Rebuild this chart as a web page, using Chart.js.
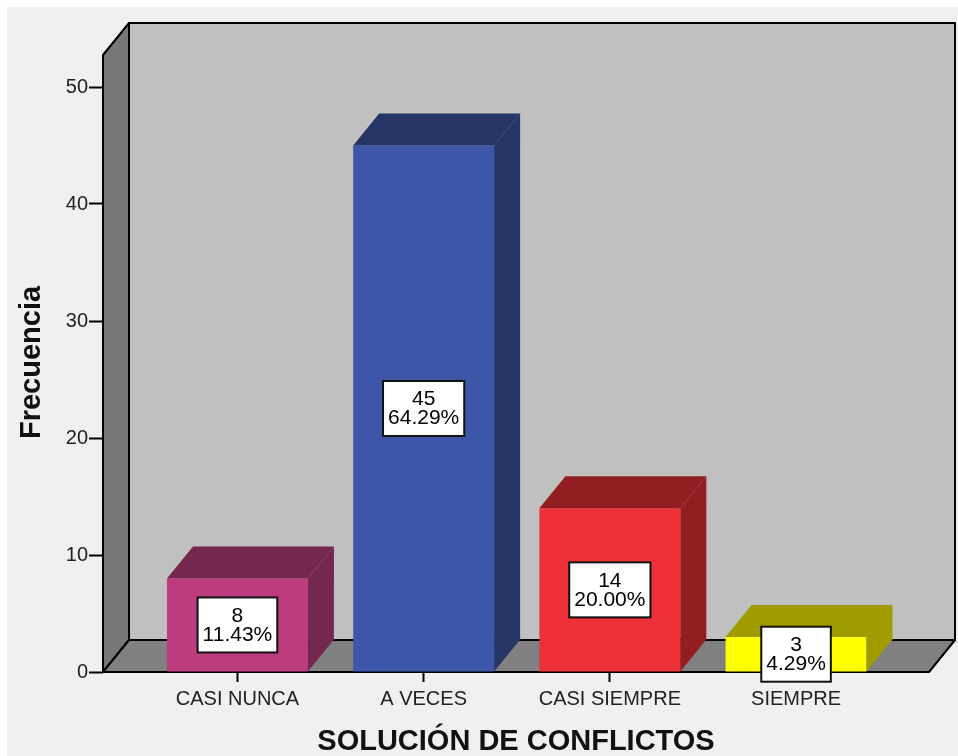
<!DOCTYPE html>
<html>
<head>
<meta charset="utf-8">
<script src="https://cdn.jsdelivr.net/npm/chart.js@4"></script>
<style>
    body { margin: 0; background: #ffffff; }
    #chart { display: block; }
</style>
</head>
<body>
<canvas id="chart" width="958" height="756"></canvas>
<script>
// ---------- DATA ----------
const CATEGORIES = ['CASI NUNCA', 'A VECES', 'CASI SIEMPRE', 'SIEMPRE'];
const COUNTS = [8, 45, 14, 3];
const PERCENTS = ['11.43%', '64.29%', '20.00%', '4.29%'];
const FRONT_COLORS = ['#bc3c7d', '#3d56a8', '#ee3039', '#ffff00'];
const SHADE_COLORS = ['#74274f', '#243566', '#921e22', '#a09c00'];

const X_TITLE = 'SOLUCIÓN DE CONFLICTOS';
const Y_TITLE = 'Frecuencia';

// ---------- 3D LOOK ----------
const DEPTH_X = 26;
const DEPTH_Y = 32;
const FONT = '"Liberation Sans", Arial, sans-serif';

// background + walls + floor
const wallsPlugin = {
    id: 'walls',
    beforeDraw(chart) {
        const ctx = chart.ctx;
        const a = chart.chartArea;
        ctx.save();
        ctx.fillStyle = '#ffffff';
        ctx.fillRect(0, 0, chart.width, chart.height);
        ctx.fillStyle = '#f0f0f0';
        ctx.fillRect(7, 7, chart.width - 7, chart.height - 7);

        const top = a.top - DEPTH_Y;
        const bx = DEPTH_X, by = -DEPTH_Y;
        ctx.lineWidth = 2;
        ctx.strokeStyle = '#000000';
        ctx.lineJoin = 'round';

        // back wall
        ctx.fillStyle = '#c0c0c0';
        ctx.beginPath();
        ctx.rect(a.left + bx, top + by, a.right - a.left, a.bottom - top);
        ctx.fill();
        ctx.stroke();

        // left wall
        ctx.fillStyle = '#777777';
        ctx.beginPath();
        ctx.moveTo(a.left, top);
        ctx.lineTo(a.left + bx, top + by);
        ctx.lineTo(a.left + bx, a.bottom + by);
        ctx.lineTo(a.left, a.bottom);
        ctx.closePath();
        ctx.fill();
        ctx.stroke();

        // floor
        ctx.fillStyle = '#808080';
        ctx.beginPath();
        ctx.moveTo(a.left, a.bottom);
        ctx.lineTo(a.left + bx, a.bottom + by);
        ctx.lineTo(a.right + bx, a.bottom + by);
        ctx.lineTo(a.right, a.bottom);
        ctx.closePath();
        ctx.fill();
        ctx.stroke();
        ctx.restore();
    },
    // y axis title, placed a bit above the axis middle like the original
    afterDraw(chart) {
        const ctx = chart.ctx;
        const a = chart.chartArea;
        ctx.save();
        ctx.translate(32, (a.top + a.bottom) / 2 - 17);
        ctx.rotate(-Math.PI / 2);
        ctx.font = 'bold 29px ' + FONT;
        ctx.fillStyle = '#111111';
        ctx.textAlign = 'center';
        ctx.textBaseline = 'middle';
        ctx.fillText(Y_TITLE, 0, 0);
        ctx.restore();
    }
};

// bar top/side faces and value boxes
const barFacesPlugin = {
    id: 'barFaces',
    afterDatasetsDraw(chart) {
        const ctx = chart.ctx;
        const bars = chart.getDatasetMeta(0).data;
        ctx.save();
        bars.forEach((bar, i) => {
            const l = bar.x - bar.width / 2;
            const r = bar.x + bar.width / 2;
            ctx.fillStyle = SHADE_COLORS[i];
            // top
            ctx.beginPath();
            ctx.moveTo(l, bar.y);
            ctx.lineTo(l + DEPTH_X, bar.y - DEPTH_Y);
            ctx.lineTo(r + DEPTH_X, bar.y - DEPTH_Y);
            ctx.lineTo(r, bar.y);
            ctx.closePath();
            ctx.fill();
            // side
            ctx.beginPath();
            ctx.moveTo(r, bar.y);
            ctx.lineTo(r + DEPTH_X, bar.y - DEPTH_Y);
            ctx.lineTo(r + DEPTH_X, bar.base - DEPTH_Y);
            ctx.lineTo(r, bar.base);
            ctx.closePath();
            ctx.fill();
        });

        // ---------- value labels ----------
        ctx.font = '21px ' + FONT;
        ctx.textAlign = 'center';
        ctx.textBaseline = 'middle';
        bars.forEach((bar, i) => {
            const lines = [String(COUNTS[i]), PERCENTS[i]];
            const w = Math.max(...lines.map(t => ctx.measureText(t).width)) + 10;
            const h = 55;
            const cx = bar.x;
            const cy = (bar.y + bar.base) / 2;
            ctx.fillStyle = '#ffffff';
            ctx.fillRect(cx - w / 2, cy - h / 2, w, h);
            ctx.lineWidth = 2;
            ctx.strokeStyle = '#111111';
            ctx.strokeRect(cx - w / 2, cy - h / 2, w, h);
            ctx.fillStyle = '#000000';
            ctx.fillText(lines[0], cx, cy - 9);
            ctx.fillText(lines[1], cx, cy + 10);
        });
        ctx.restore();
    }
};

// ---------- CHART ----------
new Chart(document.getElementById('chart'), {
    type: 'bar',
    data: {
        datasets: [{
            data: COUNTS.map((v, i) => ({ x: i, y: v })),
            backgroundColor: FRONT_COLORS,
            borderWidth: 0,
            categoryPercentage: 1,
            barPercentage: 0.757
        }]
    },
    options: {
        responsive: false,
        animation: false,
        layout: { padding: { top: 87, right: 29, bottom: 0, left: 0 } },
        plugins: {
            legend: { display: false },
            tooltip: { enabled: false }
        },
        scales: {
            x: {
                type: 'linear',
                offset: false,
                min: -0.722,
                max: 3.714,
                afterBuildTicks: scale => {
                    scale.ticks = CATEGORIES.map((c, i) => ({ value: i }));
                },
                afterFit: scale => { scale.height = 84; },
                grid: { offset: false, drawOnChartArea: false, drawTicks: true, tickLength: 10, tickWidth: 2, color: '#000000' },
                border: { display: false },
                ticks: {
                    autoSkip: false,
                    maxRotation: 0,
                    padding: 5,
                    color: '#222222',
                    font: { family: FONT, size: 20 },
                    callback: v => CATEGORIES[v]
                },
                title: {
                    display: true,
                    text: X_TITLE,
                    color: '#111111',
                    font: { family: FONT, size: 29, weight: 'bold', lineHeight: 1 },
                    padding: { top: 0, bottom: 0 }
                }
            },
            y: {
                min: 0,
                max: 50,
                afterFit: scale => { scale.width = 103; },
                grid: { drawOnChartArea: false, drawTicks: true, tickLength: 14, tickWidth: 2, color: '#000000' },
                border: { display: false },
                ticks: {
                    stepSize: 10,
                    padding: 1,
                    color: '#222222',
                    font: { family: FONT, size: 20 }
                }
            }
        }
    },
    plugins: [wallsPlugin, barFacesPlugin]
});
</script>
</body>
</html>
